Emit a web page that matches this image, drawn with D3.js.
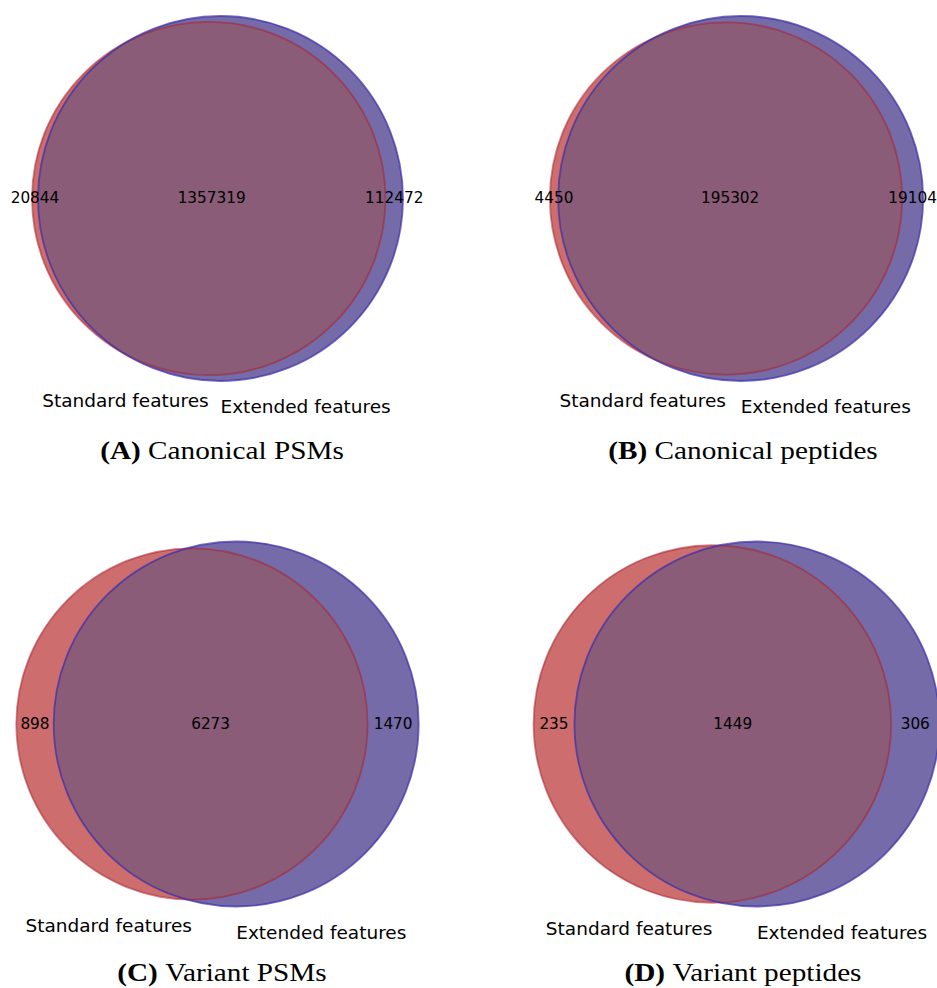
<!DOCTYPE html>
<html><head><meta charset="utf-8">
<script src="https://cdn.jsdelivr.net/npm/d3@7"></script>
<style>html,body{margin:0;padding:0;background:#fff;} svg{display:block;}</style>
</head><body>
<script>
// ---- data ----
const panelIds = ["A", "B", "C", "D"];
const panelTitles = ["Canonical PSMs", "Canonical peptides", "Variant PSMs", "Variant peptides"];
const setLabels = ["Standard features", "Extended features"];
const onlyStandard = [20844, 4450, 898, 235];
const onlyExtended = [112472, 19104, 1470, 306];
const shared = [1357319, 195302, 6273, 1449];

// ---- layout / style ----
const W = 937, H = 988;
const colCx = [217.5, 736.5];
const rowCy = [198.5, 724];
const diagH = 365;
const capCx = [222, 743];
const capBase = [459, 981];
const colRed = "#cd6d6d", colBlue = "#756ba8", colMix = "#8a5c78";
const strokeRed = "rgba(170,35,45,0.55)", strokeBlue = "rgba(60,45,170,0.7)";

const svg = d3.select("body").append("svg").attr("width", W).attr("height", H);
const defs = svg.append("defs");

function lensArea(r1, r2, d) {
  if (d >= r1 + r2) return 0;
  if (d <= Math.abs(r1 - r2)) return Math.PI * Math.min(r1, r2) ** 2;
  return r1 * r1 * Math.acos((d * d + r1 * r1 - r2 * r2) / (2 * d * r1)) +
         r2 * r2 * Math.acos((d * d + r2 * r2 - r1 * r1) / (2 * d * r2)) -
         0.5 * Math.sqrt((-d + r1 + r2) * (d + r1 - r2) * (d - r1 + r2) * (d + r1 + r2));
}

panelIds.forEach((id, i) => {
  const col = i % 2, row = Math.floor(i / 2);
  const a = onlyStandard[i], b = onlyExtended[i], ab = shared[i];
  const total = a + b + ab;
  const areaA = (a + ab) / total, areaB = (b + ab) / total, areaAB = ab / total;
  const rA = Math.sqrt(areaA / Math.PI), rB = Math.sqrt(areaB / Math.PI);
  let lo = Math.abs(rA - rB) + 1e-9, hi = rA + rB;
  for (let k = 0; k < 100; k++) {
    const mid = (lo + hi) / 2;
    if (lensArea(rA, rB, mid) > areaAB) lo = mid; else hi = mid;
  }
  const d = (lo + hi) / 2;
  const cA = 0, cB = d;
  const left = Math.min(cA - rA, cB - rB), right = Math.max(cA + rA, cB + rB);
  const maxR = Math.max(rA, rB);
  const k = diagH / (2 * maxR);
  const halfW = k * (right - left) / 2;
  const x = d3.scaleLinear().domain([left, right]).range([colCx[col] - halfW, colCx[col] + halfW]);
  const y = d3.scaleLinear().domain([-maxR, maxR]).range([rowCy[row] + diagH / 2, rowCy[row] - diagH / 2]);
  const rpx = r => x(r) - x(0);

  const g = svg.append("g");
  const clipId = "clipA" + id;
  defs.append("clipPath").attr("id", clipId)
    .append("circle").attr("cx", x(cA)).attr("cy", y(0)).attr("r", rpx(rA));

  g.append("circle").attr("cx", x(cA)).attr("cy", y(0)).attr("r", rpx(rA)).attr("fill", colRed);
  g.append("circle").attr("cx", x(cB)).attr("cy", y(0)).attr("r", rpx(rB)).attr("fill", colBlue);
  g.append("circle").attr("cx", x(cB)).attr("cy", y(0)).attr("r", rpx(rB)).attr("fill", colMix)
    .attr("clip-path", `url(#${clipId})`);
  g.append("circle").attr("cx", x(cA)).attr("cy", y(0)).attr("r", rpx(rA))
    .attr("fill", "none").attr("stroke", strokeRed).attr("stroke-width", 1.8);
  g.append("circle").attr("cx", x(cB)).attr("cy", y(0)).attr("r", rpx(rB))
    .attr("fill", "none").attr("stroke", strokeBlue).attr("stroke-width", 1.8);

  // subset labels
  const labelXs = [((cA - rA) + (cB - rB)) / 2, ((cB - rB) + (cA + rA)) / 2, ((cA + rA) + (cB + rB)) / 2];
  const labelVals = [a, ab, b];
  labelXs.forEach((lx, j) => {
    g.append("text").attr("x", x(lx)).attr("y", y(0) + 4.6)
      .attr("text-anchor", "middle")
      .attr("font-family", "DejaVu Sans").attr("font-size", 15.3).attr("fill", "#000")
      .text(labelVals[j]);
  });

  // set labels
  g.append("text").attr("x", x(cA)).attr("y", y(-rA) + 32)
    .attr("text-anchor", "end").attr("font-family", "DejaVu Sans").attr("font-size", 18.5)
    .text(setLabels[0]);
  g.append("text").attr("x", x(cB)).attr("y", y(-rB) + 32)
    .attr("text-anchor", "start").attr("font-family", "DejaVu Sans").attr("font-size", 18.5)
    .text(setLabels[1]);

  // caption
  const cap = svg.append("g").attr("transform", `translate(${capCx[col]},${capBase[row]}) scale(1.17,1)`)
    .append("text").attr("text-anchor", "middle")
    .attr("font-family", "Liberation Serif, Times New Roman, serif").attr("font-size", 25);
  cap.append("tspan").attr("font-weight", "bold").text(`(${id})`);
  cap.append("tspan").text("\u00a0" + panelTitles[i]);
});
</script>
</body></html>
